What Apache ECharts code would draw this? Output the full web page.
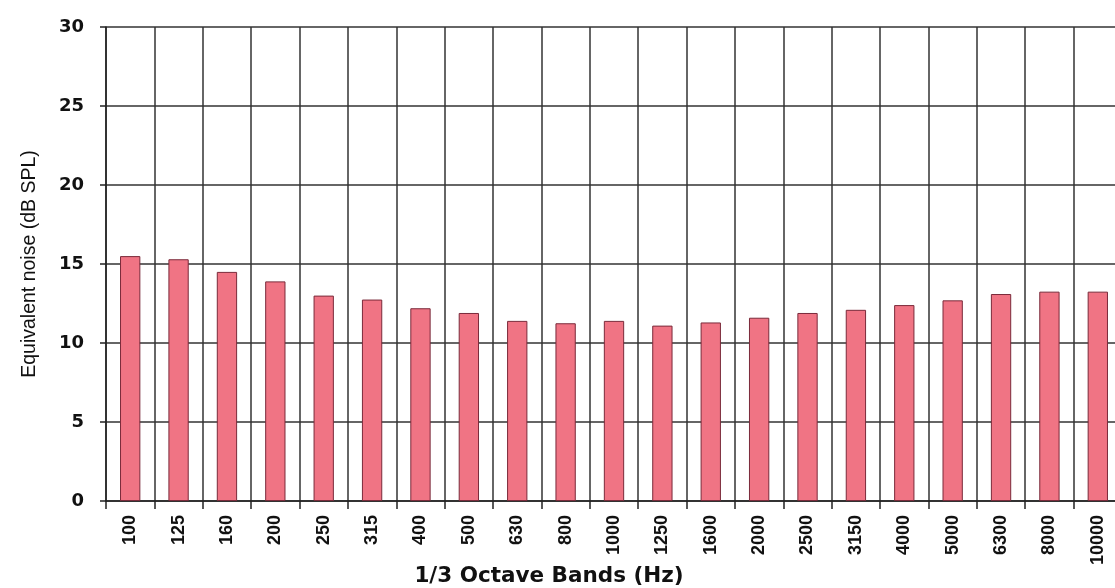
<!DOCTYPE html>
<html>
<head>
<meta charset="utf-8">
<script src="https://cdn.jsdelivr.net/npm/echarts@6/dist/echarts.min.js"></script>
<style>html,body{margin:0;padding:0;background:#fff;}#c{width:1115px;height:588px;}</style>
</head>
<body>
<div id="c"></div>
<script>
const categories = ['100','125','160','200','250','315','400','500','630','800','1000','1250','1600','2000','2500','3150','4000','5000','6300','8000','10000'];
const noiseValues = [15.5,15.3,14.5,13.9,13.0,12.75,12.2,11.9,11.4,11.25,11.4,11.1,11.3,11.6,11.9,12.1,12.4,12.7,13.1,13.25,13.25];
const yTicks = [0,5,10,15,20,25,30];

const chart = echarts.init(document.getElementById('c'), null, {renderer:'canvas'});
chart.setOption({
  backgroundColor:'#ffffff',
  animation:false,
  grid:{left:106, top:27, right:-7, bottom:87, containLabel:false, outerBoundsMode:'none'},
  xAxis:{
    type:'category',
    data:categories,
    boundaryGap:true,
    name:'1/3 Octave Bands (Hz)',
    nameLocation:'middle',
    nameGap:64,
    nameMoveOverlap:false,
    nameTextStyle:{fontFamily:'DejaVu Sans', fontWeight:'bold', fontSize:21.5, color:'#111', padding:[0,130,0,0]},
    axisLine:{lineStyle:{color:'#222', width:1.5}},
    axisTick:{show:true, length:8, alignWithLabel:false, lineStyle:{color:'#222', width:1.5}},
    axisLabel:{rotate:90, margin:14, fontFamily:'Liberation Sans', fontWeight:'bold', fontSize:18, color:'#111', interval:0},
    splitLine:{show:true, interval:0, lineStyle:{color:'#333', width:1.5}}
  },
  yAxis:{
    type:'value',
    min:0, max:30, interval:5,
    name:'Equivalent noise (dB SPL)',
    nameLocation:'middle',
    nameGap:66,
    nameMoveOverlap:false,
    nameTextStyle:{fontFamily:'Liberation Sans', fontSize:19.5, color:'#111'},
    axisLine:{show:true, lineStyle:{color:'#222', width:1.5}},
    axisTick:{show:true, length:6, lineStyle:{color:'#222', width:1.5}},
    axisLabel:{margin:22, fontFamily:'DejaVu Sans', fontWeight:'bold', fontSize:18, color:'#111',
      formatter:function(v){return yTicks.indexOf(v)>=0 ? String(v) : '';}},
    splitLine:{show:true, lineStyle:{color:'#333', width:1.5}}
  },
  series:[{
    type:'bar',
    data:noiseValues,
    barWidth:'42%',
    itemStyle:{color:'#F07484', borderColor:'#7a2a3a', borderWidth:1}
  }]
});
</script>
</body>
</html>
